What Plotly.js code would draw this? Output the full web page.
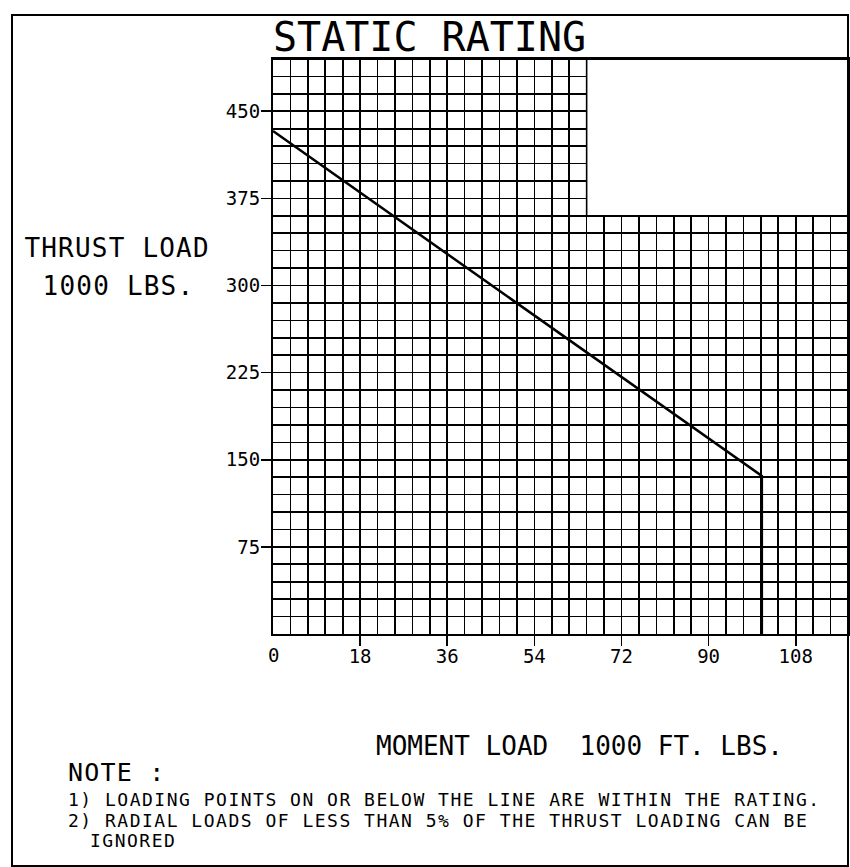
<!DOCTYPE html>
<html>
<head>
<meta charset="utf-8">
<script src="https://cdn.plot.ly/plotly-3.0.1.min.js"></script>
<style>
  html, body { margin: 0; padding: 0; background: #fff; }
  #chart { width: 850px; height: 867px; }
  .annotation-text.wide1 { letter-spacing: 1.2px; }
  .annotation-text.wide2 { letter-spacing: 1.5px; }
</style>
</head>
<body>
<div id="chart"></div>
<script>
// ---- data ----
const momentTicks = [0, 18, 36, 54, 72, 90, 108];          // x tick labels (1000 ft.lbs)
const thrustTicks = [75, 150, 225, 300, 375, 450];          // y tick labels (1000 lbs)
const ratingMoment = [0, 101, 101];                         // rating line, moment load
const ratingThrust = [433, 136, 0];                         // rating line, thrust load

const titleText = 'STATIC RATING';
const yTitleLines = ['THRUST LOAD', '1000 LBS.'];
const xTitleText = 'MOMENT LOAD  1000 FT. LBS.';
const noteHead = 'NOTE :';
const noteLines = [
  '1) LOADING POINTS ON OR BELOW THE LINE ARE WITHIN THE RATING.',
  '2) RADIAL LOADS OF LESS THAN 5% OF THE THRUST LOADING CAN BE',
  'IGNORED'
];

// ---- layout constants ----
const X_MAX = 118.8, Y_MAX = 495;      // grid extent (33 x 33 cells)
const X_STEP = 3.6, Y_STEP = 15;       // grid cell size
const CUT_X = 64.8, CUT_Y = 360;       // upper-right blank region
const W = 850, H = 867;
const ML = 273, MR = 2, MT = 59, MB = 233;
const PW = W - ML - MR, PH = H - MT - MB;
const px = p => (p - ML) / PW;
const py = p => (H - MB - p) / PH;
const FONT = 'DejaVu Sans Mono';

const trace = {
  x: ratingMoment, y: ratingThrust, type: 'scatter', mode: 'lines',
  line: { color: '#000', width: 2.5 }, hoverinfo: 'skip', showlegend: false
};

const axisCommon = {
  showgrid: true, gridcolor: '#000', gridwidth: 1.6,
  zeroline: false, showline: true, mirror: true, linecolor: '#000', linewidth: 2,
  ticks: 'outside', ticklen: 10, tickwidth: 1.6, tickcolor: '#000',
  tickfont: { family: FONT, size: 19, color: '#000' },
  tickmode: 'array', fixedrange: true
};

const xTickVals = momentTicks.filter(v => v !== 0);

const ann = (text, x, y, size, anchor, cls) => ({
  text: text, xref: 'paper', yref: 'paper', x: px(x), y: py(y),
  xanchor: anchor, yanchor: 'middle', align: anchor === 'left' ? 'left' : 'center',
  showarrow: false, font: { family: FONT, size: size, color: '#000' }, name: cls || ''
});

const layout = {
  width: W, height: H, autosize: false,
  margin: { l: ML, r: MR, t: MT, b: MB, pad: 0 },
  paper_bgcolor: '#fff', plot_bgcolor: '#fff',
  showlegend: false,
  title: {
    text: titleText, font: { family: FONT, size: 40, color: '#000' },
    xref: 'container', yref: 'container', x: 273 / W, xanchor: 'left',
    y: 1 - 37 / H, yanchor: 'middle'
  },
  xaxis: Object.assign({}, axisCommon, {
    range: [0, X_MAX], tickvals: xTickVals, ticktext: xTickVals.map(String),
    ticklabelstandoff: -6,
    minor: { tickmode: 'linear', tick0: 0, dtick: X_STEP, showgrid: true, gridcolor: '#000', gridwidth: 1.6, ticks: '' }
  }),
  yaxis: Object.assign({}, axisCommon, {
    range: [0, Y_MAX], tickvals: thrustTicks, ticktext: thrustTicks.map(String),
    ticklabelstandoff: -3,
    minor: { tickmode: 'linear', tick0: 0, dtick: Y_STEP, showgrid: true, gridcolor: '#000', gridwidth: 1.6, ticks: '' }
  }),
  shapes: [
    { type: 'rect', xref: 'x', yref: 'y', x0: CUT_X, x1: X_MAX, y0: CUT_Y, y1: Y_MAX,
      fillcolor: '#fff', line: { width: 0 }, layer: 'above' },
    { type: 'line', xref: 'x', yref: 'y', x0: CUT_X, x1: CUT_X, y0: CUT_Y, y1: Y_MAX,
      line: { color: '#000', width: 1.6 }, layer: 'above' },
    { type: 'line', xref: 'x', yref: 'y', x0: CUT_X, x1: X_MAX, y0: CUT_Y, y1: CUT_Y,
      line: { color: '#000', width: 1.6 }, layer: 'above' },
    { type: 'line', xref: 'x', yref: 'y', x0: 0, x1: X_MAX, y0: Y_MAX, y1: Y_MAX,
      line: { color: '#000', width: 2 }, layer: 'above' },
    { type: 'rect', xref: 'paper', yref: 'paper', x0: px(12), x1: px(848), y0: py(866), y1: py(15),
      line: { color: '#000', width: 2 }, fillcolor: 'rgba(0,0,0,0)', layer: 'above' }
  ],
  annotations: [
    // "0" label at the origin, taken from the moment tick list
    { text: String(momentTicks[0]), xref: 'x', yref: 'paper', x: momentTicks[0], y: py(655),
      xanchor: 'center', yanchor: 'middle', showarrow: false, font: { family: FONT, size: 19, color: '#000' } },
    ann(yTitleLines[0], 117, 248, 26, 'center', 'wide1'),
    ann(yTitleLines[1], 118, 286, 26, 'center', 'wide1'),
    ann(xTitleText, 579, 746, 26, 'center'),
    ann(noteHead, 66, 772, 25, 'left', 'wide1'),
    ann(noteLines[0], 66, 799, 18, 'left', 'wide2'),
    ann(noteLines[1], 66, 820, 18, 'left', 'wide2'),
    ann(noteLines[2], 88, 841, 18, 'left', 'wide2')
  ]
};

Plotly.newPlot('chart', [trace], layout, { staticPlot: true, displayModeBar: false }).then(gd => {
  // apply letter spacing classes to chosen annotations
  const anns = gd.querySelectorAll('.annotation');
  (gd.layout.annotations || []).forEach((a, i) => {
    if (a.name && anns[i]) {
      const t = anns[i].querySelector('text');
      if (t) t.setAttribute('class', (t.getAttribute('class') || '') + ' ' + a.name);
    }
  });
});
</script>
</body>
</html>
